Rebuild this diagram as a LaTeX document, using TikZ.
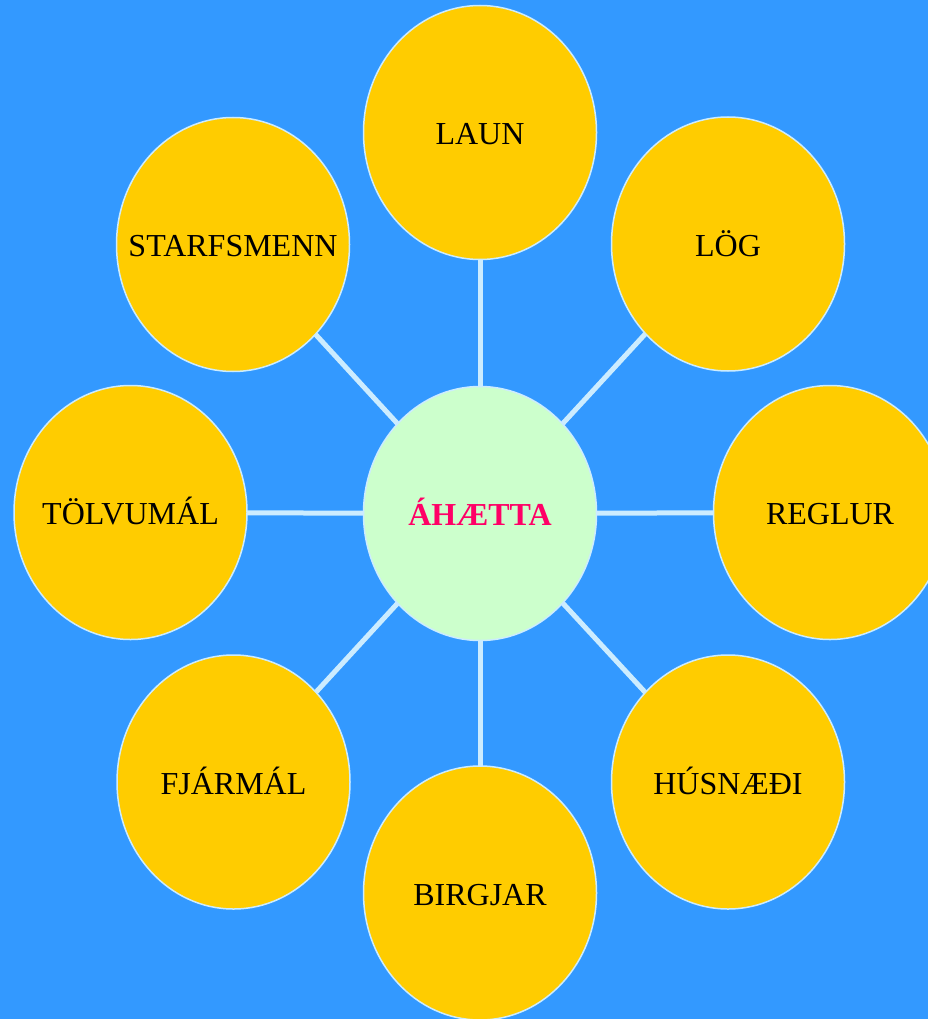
\documentclass[tikz,border=0pt]{standalone}
\usepackage{fontspec}
\setmainfont{Liberation Serif}
\usetikzlibrary{shapes.geometric,backgrounds}
\definecolor{bgblue}{HTML}{3399FF}
\definecolor{bubbleyellow}{HTML}{FFCC00}
\definecolor{centergreen}{HTML}{CCFFCC}
\definecolor{linkblue}{HTML}{CCECFF}
\definecolor{hotpink}{HTML}{FF0066}
\begin{document}
\begin{tikzpicture}[x=1pt,y=-1pt,
  bubble/.style={ellipse, minimum width=233pt, minimum height=254pt, inner sep=0pt,
    fill=bubbleyellow, draw=linkblue, line width=1.5pt},
  hub/.style={bubble, fill=centergreen},
  word/.style={inner sep=0pt, font=\fontsize{32}{38}\selectfont, text=black,
    text height=24pt, text depth=0pt},
  hubword/.style={word, font=\fontsize{32}{38}\selectfont\bfseries, text=hotpink},
  link/.style={draw=linkblue, line width=5pt}]
\useasboundingbox (0,0) rectangle (928,1019);
\node[hub] (c) at (480,513.5) {};
\node[hubword] (c-t) at (c) {ÁHÆTTA};
\node[bubble] (laun) at (480,132.5) {};
\node[word] (laun-t) at (laun) {LAUN};
\node[bubble] (log) at (728,244) {};
\node[word] (log-t) at (log) {LÖG};
\node[bubble] (reglur) at (830,512.5) {};
\node[word] (reglur-t) at (reglur) {REGLUR};
\node[bubble] (husn) at (728,782) {};
\node[word] (husn-t) at (husn) {HÚSNÆÐI};
\node[bubble] (birgjar) at (480,893) {};
\node[word] (birgjar-t) at (birgjar) {BIRGJAR};
\node[bubble] (fjarm) at (233.5,782) {};
\node[word] (fjarm-t) at (fjarm) {FJÁRMÁL};
\node[bubble] (tolvu) at (130.5,512.5) {};
\node[word] (tolvu-t) at (tolvu) {TÖLVUMÁL};
\node[bubble] (starf) at (233,244.5) {};
\node[word] (starf-t) at (starf) {STARFSMENN};
\begin{pgfonlayer}{background}
  \fill[bgblue] (0,0) rectangle (928,1019);
  \foreach \n in {laun,log,reglur,husn,birgjar,fjarm,tolvu,starf}
    \draw[link] (c.center) -- (\n.center);
\end{pgfonlayer}
\end{tikzpicture}
\end{document}
